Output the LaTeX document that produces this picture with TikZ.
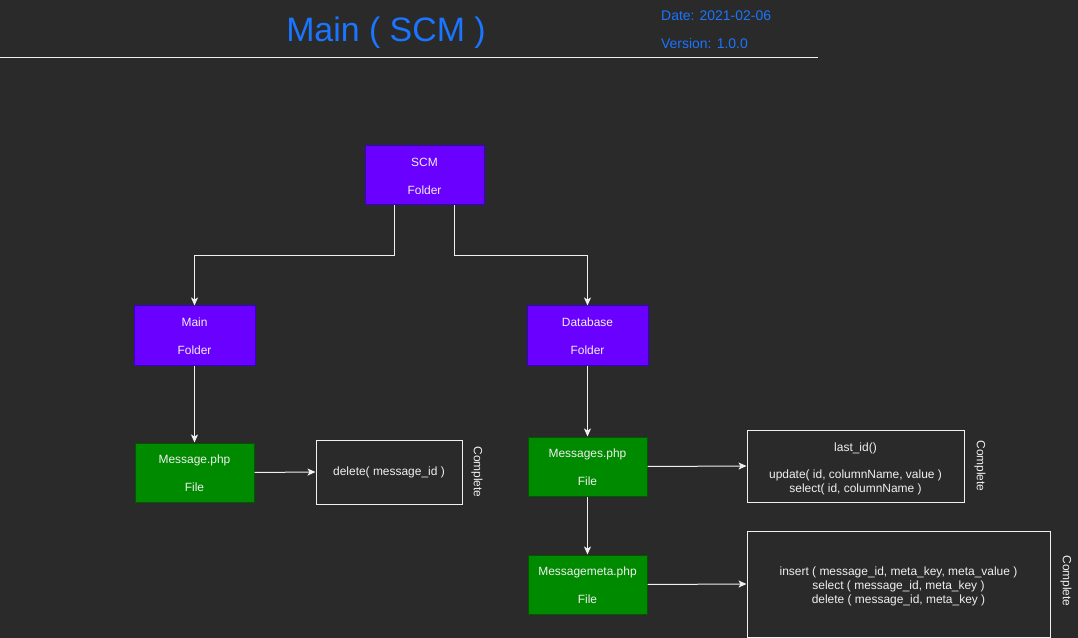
\documentclass[tikz,border=0pt]{standalone}
\usepackage{fontspec}
\setmainfont{Liberation Sans}
\usetikzlibrary{arrows.meta,calc}
\definecolor{bg}{HTML}{2A2A2A}
\definecolor{titleblue}{HTML}{1A75FF}
\definecolor{purplefill}{HTML}{6A00FF}
\definecolor{purpleline}{HTML}{3700CC}
\definecolor{greenfill}{HTML}{008A00}
\definecolor{greenline}{HTML}{005700}
\definecolor{linecol}{HTML}{F0F0F0}
\definecolor{txt}{HTML}{F0F0F0}
\tikzset{
  base/.style={rectangle, inner sep=0pt, align=center, text=txt,
    font=\fontsize{12}{14}\selectfont},
  folderbox/.style={base, fill=purplefill, draw=purpleline, line width=1bp},
  filebox/.style={base, fill=greenfill, draw=greenline, line width=1bp},
  notebox/.style={base, draw=linecol, line width=1bp},
  status/.style={text=txt, rotate=-90, inner sep=0pt, font=\fontsize{12}{14}\selectfont},
  conn/.style={draw=linecol, line width=1bp, -{Stealth[length=8bp,width=7bp,inset=2bp]}},
}
\newcommand{\lift}[1]{\rule{0pt}{#1}}
\begin{document}
\begin{tikzpicture}[x=1bp,y=-1bp]
\fill[bg] (0,0) rectangle (1078,638);
\useasboundingbox (0,0) rectangle (1078,638);

\node[text=titleblue, font=\fontsize{34}{40}\selectfont, inner sep=0pt] (title) at (386,33) {Main ( SCM )};
\node[text=titleblue, font=\fontsize{14}{16}\selectfont, anchor=west, inner sep=0pt] (date) at (661,15.5) {Date: 2021-02-06};
\node[text=titleblue, font=\fontsize{14}{16}\selectfont, anchor=west, inner sep=0pt] (version) at (661,43.5) {Version: 1.0.0};
\coordinate (hl) at (0,58);
\coordinate (hr) at (818,58);
\draw[linecol, line width=1bp] (hl) -- (hr);

\node[folderbox, minimum width=119bp, minimum height=59bp] (scm) at (424.5,175.5) {\lift{11bp}SCM\\[14bp]Folder};
\node[folderbox, minimum width=121bp, minimum height=59bp] (main) at (194.5,335.5) {\lift{11bp}Main\\[14bp]Folder};
\node[folderbox, minimum width=121bp, minimum height=59bp] (db) at (587.5,335.5) {\lift{11bp}Database\\[14bp]Folder};

\node[filebox, minimum width=119bp, minimum height=59bp] (msg) at (194.5,472.5) {\lift{11bp}Message.php\\[14bp]File};
\node[filebox, minimum width=119bp, minimum height=59bp] (msgs) at (587.5,466.5) {\lift{11bp}Messages.php\\[14bp]File};
\node[filebox, minimum width=119bp, minimum height=59bp] (meta) at (587.5,584.5) {\lift{11bp}Messagemeta.php\\[14bp]File};

\node[notebox, minimum width=146bp, minimum height=64bp] (del) at (389,472) {delete( message\_id )};
\node[notebox, minimum width=217bp, minimum height=72bp] (last) at (855.5,466) {\lift{15bp}last\_id()\\[13bp]update( id, columnName, value )\\select( id, columnName )};
\node[notebox, minimum width=303bp, minimum height=106bp] (ins) at (898.5,584) {\lift{13bp}insert ( message\_id, meta\_key, meta\_value )\\select ( message\_id, meta\_key )\\delete ( message\_id, meta\_key )};

\node[status] (c1) at (477,472) {Complete};
\node[status] (c2) at (980,466) {Complete};
\node[status] (c3) at (1066,581) {Complete};

\draw[conn] ([xshift=-30bp]scm.south) -- ++(0,50) -| (main.north);
\draw[conn] ([xshift=30bp]scm.south) -- ++(0,50) -| (db.north);
\draw[conn] (main.south) -- (msg.north);
\draw[conn] (db.south) -- (msgs.north);
\draw[conn] (msgs.south) -- (meta.north);
\draw[conn] (msg.east) -- (del.west);
\draw[conn] (msgs.east) -- (last.west);
\draw[conn] (meta.east) -- (ins.west);
\end{tikzpicture}
\end{document}
